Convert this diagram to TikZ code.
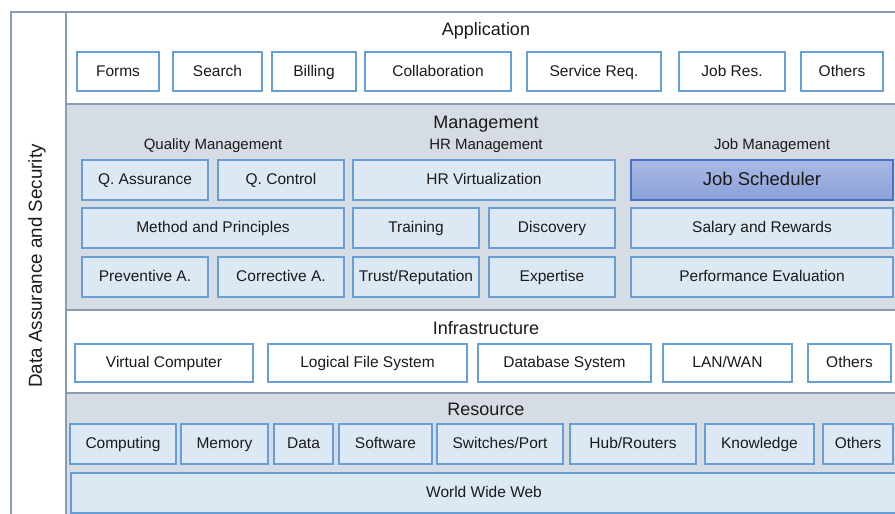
\documentclass[tikz,border=0pt]{standalone}
\usepackage{fontspec}
\setmainfont{Liberation Sans}
\definecolor{frameC}{RGB}{139,155,180}
\definecolor{bandC}{RGB}{214,220,227}
\definecolor{boxD}{RGB}{104,158,214}
\definecolor{boxF}{RGB}{221,232,245}
\definecolor{jsTop}{RGB}{170,186,228}
\definecolor{jsBot}{RGB}{138,160,216}
\definecolor{jsD}{RGB}{72,112,196}
\definecolor{txtC}{RGB}{26,26,26}
\tikzset{
  box/.style={draw=boxD, line width=1.6pt, fill=boxF, inner sep=0pt, text=txtC,
    text height=11.5pt, text depth=2pt,
    font=\fontsize{15.5}{18}\selectfont},
  wbox/.style={box, fill=white},
  jsbox/.style={box, draw=jsD, line width=2.2pt, top color=jsTop, bottom color=jsBot,
    text height=13.5pt, text depth=2.5pt,
    font=\fontsize{18.5}{21}\selectfont},
  ttl/.style={text=txtC, inner sep=0pt, font=\fontsize{18}{21}\selectfont},
  sttl/.style={text=txtC, inner sep=0pt, font=\fontsize{15}{18}\selectfont},
  frm/.style={draw=frameC, line width=1.8pt}
}
\newcommand\bx[7][]{\node[box,#1,minimum width={(#5-#3)*1pt},minimum height={(#6-#4)*1pt}] (#2) at ({(#3+#5)/2},{(#4+#6)/2}) {#7};}
\begin{document}
\begin{tikzpicture}[x=1pt,y=-1pt]
\useasboundingbox (0,0) rectangle (895,514);
\begin{scope}
\clip (0,0) rectangle (895,514);
% bands
\fill[bandC] (66,104) rectangle (910,310);
\fill[bandC] (66,393) rectangle (910,530);
\draw[frm] (11,12) rectangle (910,530);
\draw[frm] (66,12) -- (66,530);
\draw[frm] (66,104) -- (910,104);
\draw[frm] (66,310) -- (910,310);
\draw[frm] (66,393) -- (910,393);

\node[ttl, rotate=90, font=\fontsize{18.8}{21}\selectfont] (das) at (37,266) {Data Assurance and Security};

% Application
\node[ttl] (tapp) at (486,31) {Application};
\bx[wbox]{forms}{77}{52}{159}{91}{Forms}
\bx[wbox]{search}{173}{52}{262}{91}{Search}
\bx[wbox]{billing}{272}{52}{356}{91}{Billing}
\bx[wbox]{collab}{365}{52}{511}{91}{Collaboration}
\bx[wbox]{servreq}{527}{52}{661}{91}{Service Req.}
\bx[wbox]{jobres}{679}{52}{785}{91}{Job Res.}
\bx[wbox]{oth1}{801}{52}{883}{91}{Others}

% Management
\node[ttl] (tman) at (486,124) {Management};
\node[sttl] (tqm) at (213,146) {Quality Management};
\node[sttl] (thr) at (486,146) {HR Management};
\node[sttl] (tjm) at (772,146) {Job Management};
\bx{qa}{82}{160}{208}{200}{Q. Assurance}
\bx{qc}{218}{160}{344}{200}{Q. Control}
\bx{hrv}{353}{160}{615}{200}{HR Virtualization}
\bx[jsbox]{js}{631}{160}{893}{200}{Job Scheduler}
\bx{mp}{82}{208}{344}{248}{Method and Principles}
\bx{train}{353}{208}{479}{248}{Training}
\bx{disc}{489}{208}{615}{248}{Discovery}
\bx{sal}{631}{208}{893}{248}{Salary and Rewards}
\bx{prev}{82}{257}{208}{297}{Preventive A.}
\bx{corr}{218}{257}{344}{297}{Corrective A.}
\bx{trust}{353}{257}{479}{297}{Trust/Reputation}
\bx{exp}{489}{257}{615}{297}{Expertise}
\bx{perf}{631}{257}{893}{297}{Performance Evaluation}

% Infrastructure
\node[ttl] (tinf) at (486,328) {Infrastructure};
\bx[wbox]{vc}{75}{344}{253}{382}{Virtual Computer}
\bx[wbox]{lfs}{268}{344}{467}{382}{Logical File System}
\bx[wbox]{dbs}{478}{344}{651}{382}{Database System}
\bx[wbox]{lan}{663}{344}{792}{382}{LAN/WAN}
\bx[wbox]{oth2}{808}{344}{891}{382}{Others}

% Resource
\node[ttl] (tres) at (486,409) {Resource};
\bx{comp}{70}{424}{176}{464}{Computing}
\bx{mem}{181}{424}{268}{464}{Memory}
\bx{data}{274}{424}{333}{464}{Data}
\bx{soft}{339}{424}{432}{464}{Software}
\bx{sw}{437}{424}{563}{464}{Switches/Port}
\bx{hub}{570}{424}{696}{464}{Hub/Routers}
\bx{know}{705}{424}{814}{464}{Knowledge}
\bx{oth3}{823}{424}{893}{464}{Others}
\bx{www}{71}{473}{897}{513}{World Wide Web}
\end{scope}
\end{tikzpicture}
\end{document}
